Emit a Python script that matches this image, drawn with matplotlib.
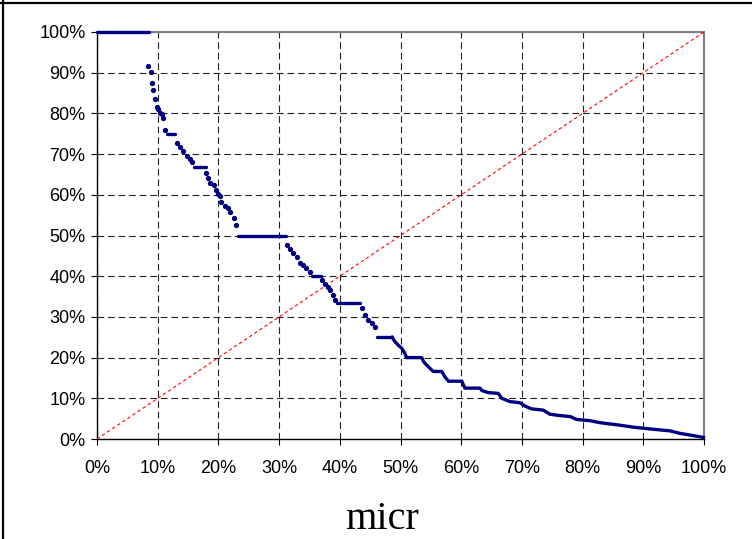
import matplotlib
matplotlib.use("Agg")
import matplotlib.pyplot as plt
from matplotlib.lines import Line2D
from matplotlib.ticker import PercentFormatter, MultipleLocator

# scattered points on the steep parts (x %, y %)
dots_x = [8.45, 8.85, 9.0, 9.3, 9.6, 9.9, 10.1, 10.4, 10.7, 10.9, 11.2,
          13.1, 13.7, 14.2, 14.8, 15.3, 15.6,
          18.0, 18.3, 18.6, 19.2, 19.6, 20.0, 20.3, 20.5, 21.1, 21.5, 21.9, 22.5, 22.9,
          31.25, 31.8, 32.3, 32.9, 33.4, 34.0, 34.5, 35.1,
          37.0, 37.6, 38.1, 38.4, 38.9, 39.2,
          43.6, 44.2, 44.7, 45.3, 45.8]
dots_y = [91.7, 90.1, 87.5, 85.8, 83.5, 81.6, 81.1, 80.0, 79.8, 78.9, 75.9,
          72.7, 71.7, 70.8, 69.5, 68.7, 68.1,
          65.4, 64.1, 63.0, 62.4, 61.2, 60.2, 59.7, 58.3, 57.2, 56.7, 55.8, 54.2, 52.6,
          47.7, 46.6, 45.6, 44.6, 43.3, 42.8, 41.9, 41.1,
          39.1, 38.1, 37.4, 36.6, 35.4, 34.2,
          32.1, 30.5, 29.2, 28.6, 27.6]

# flat runs of points: level, start, end (%)
plateau_y = [100.0, 75.0, 66.8, 50.0, 40.0, 33.3, 25.0]
plateau_x0 = [0.0, 11.5, 15.9, 23.3, 35.4, 39.5, 46.1]
plateau_x1 = [8.6, 12.85, 18.0, 31.2, 36.9, 43.3, 48.6]

# dense tail, reads as a continuous line
tail_x = [48.6, 49.1, 49.6, 50.2, 50.7, 51.0, 53.5, 53.8, 54.3, 55.1, 55.4, 56.8,
          57.3, 57.9, 60.1, 60.6, 63.1, 63.4, 64.5, 66.1, 66.7, 68.0, 69.7, 70.5,
          71.6, 73.5, 74.6, 76.0, 78.0, 79.0, 81.2, 82.9, 85.6, 88.4, 91.6, 94.4,
          96.0, 99.9]
tail_y = [25.0, 23.9, 23.1, 22.3, 21.1, 20.0, 20.0, 19.0, 18.2, 17.0, 16.6, 16.6,
          15.3, 14.2, 14.2, 12.5, 12.5, 11.9, 11.4, 11.2, 10.0, 9.2, 8.9, 8.1,
          7.4, 7.1, 6.1, 5.8, 5.5, 4.8, 4.5, 4.0, 3.5, 2.9, 2.4, 2.0,
          1.4, 0.4]

diag = [0, 100]

NAVY = "#000080"

fig = plt.figure(figsize=(7.52, 5.39), dpi=100)
fig.patch.set_facecolor("white")
ax = fig.add_axes([97 / 752, 1 - 439 / 539, 607 / 752, 407 / 539])

ax.set_xlim(0, 100)
ax.set_ylim(0, 100)
ax.xaxis.set_major_locator(MultipleLocator(10))
ax.yaxis.set_major_locator(MultipleLocator(10))
ax.xaxis.set_major_formatter(PercentFormatter(100, decimals=0))
ax.yaxis.set_major_formatter(PercentFormatter(100, decimals=0))

ax.grid(True, color="#222222", linestyle=(0, (6, 3.5)), linewidth=0.8)
ax.set_axisbelow(True)

ax.plot(diag, diag, color="#ff0000", linestyle=(0, (3, 2.5)), linewidth=0.8, zorder=3)

for y, x0, x1 in zip(plateau_y, plateau_x0, plateau_x1):
    ax.plot([x0, x1], [y, y], color=NAVY, linewidth=2.4, solid_capstyle="round",
            zorder=4, clip_on=False)
ax.plot(tail_x, tail_y, color=NAVY, linewidth=2.4, solid_joinstyle="round", zorder=4,
        clip_on=False)
ax.plot(dots_x, dots_y, "o", color=NAVY, markersize=2.8, zorder=4)

for side in ("left", "bottom"):
    ax.spines[side].set_color("#000000")
    ax.spines[side].set_linewidth(1.0)
for side in ("top", "right"):
    ax.spines[side].set_color("#808080")
    ax.spines[side].set_linewidth(1.5)

ax.tick_params(axis="y", length=4.3, width=0.8, pad=4, labelsize=13)
ax.tick_params(axis="x", length=4.3, width=0.8, pad=11, labelsize=13)
for lab in ax.get_xticklabels() + ax.get_yticklabels():
    lab.set_fontfamily("Liberation Sans")

fig.text(382 / 752, 1 - 529 / 539, "micr", ha="center", va="baseline",
         fontsize=29, family="Liberation Serif")

# outer frame (top and left edge of the screenshot)
fig.add_artist(Line2D([0, 1], [1 - 3 / 539] * 2, transform=fig.transFigure,
                      color="black", linewidth=1.6))
fig.add_artist(Line2D([3 / 752] * 2, [0, 1], transform=fig.transFigure,
                      color="black", linewidth=1.6))

fig.savefig("out.png", dpi=100, facecolor="white")
